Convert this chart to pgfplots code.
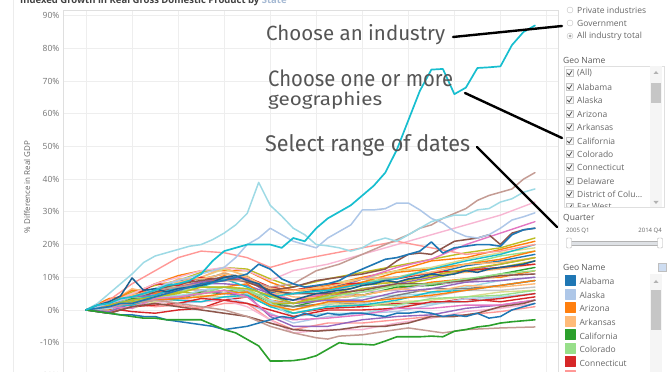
\documentclass[border=0pt]{standalone}
\usepackage{pgfplots}
\pgfplotsset{compat=1.18}
\usepackage{pgfplotstable}
\usepackage{fontspec}
\setmainfont{Open Sans}
\newfontfamily\hand{Fira Sans}
\definecolor{tBlue}{HTML}{1F77B4}
\definecolor{tLBlue}{HTML}{AEC7E8}
\definecolor{tOrange}{HTML}{FF7F0E}
\definecolor{tLOrange}{HTML}{FFBB78}
\definecolor{tGreen}{HTML}{2CA02C}
\definecolor{tLGreen}{HTML}{98DF8A}
\definecolor{tRed}{HTML}{D62728}
\definecolor{tLRed}{HTML}{FF9896}
\definecolor{tPurple}{HTML}{9467BD}
\definecolor{tLPurple}{HTML}{C5B0D5}
\definecolor{tBrown}{HTML}{8C564B}
\definecolor{tLBrown}{HTML}{C49C94}
\definecolor{tPink}{HTML}{E377C2}
\definecolor{tLPink}{HTML}{F7B6D2}
\definecolor{tGray}{HTML}{7F7F7F}
\definecolor{tLGray}{HTML}{C7C7C7}
\definecolor{tOlive}{HTML}{BCBD22}
\definecolor{tLOlive}{HTML}{DBDB8D}
\definecolor{tCyan}{HTML}{17BECF}
\definecolor{tLCyan}{HTML}{9EDAE5}
\definecolor{uiText}{HTML}{666666}
\definecolor{handText}{HTML}{555555}
\colorlet{bc1}{tOrange}\colorlet{bc2}{tOlive}\colorlet{bc3}{tLOlive}\colorlet{bc4}{tLGreen}
\colorlet{bc5}{tPurple}\colorlet{bc6}{tLOrange}\colorlet{bc7}{tOrange}\colorlet{bc8}{tRed}
\colorlet{bc9}{tLCyan}\colorlet{bc10}{tGreen}\colorlet{bc11}{tGray}\colorlet{bc12}{tLGray}
\colorlet{bc13}{tPink}\colorlet{bc14}{tLPurple}\colorlet{bc15}{tLBlue}\colorlet{bc16}{tLRed}
\colorlet{bc17}{tBlue}\colorlet{bc18}{tLOrange}\colorlet{bc19}{tLOlive}\colorlet{bc20}{tLPink}
\colorlet{bc21}{tLGreen}\colorlet{bc22}{tPurple}\colorlet{bc23}{tOlive}\colorlet{bc24}{tOrange}
\colorlet{bc25}{tCyan}\colorlet{bc26}{tLCyan}\colorlet{bc27}{tBrown}\colorlet{bc28}{tRed}
\colorlet{bc29}{tLOrange}\colorlet{bc30}{tLGreen}\colorlet{bc31}{tRed}\colorlet{bc32}{tPurple}
\colorlet{bc33}{tCyan}\colorlet{bc34}{tOrange}\colorlet{bc35}{tOlive}\colorlet{bc36}{tPink}

\pgfplotstableread{
q s1 s2 s3 s4 s5 s6 s7 s8 s9 s10 s11 s12 s13 s14 s15 s16 s17 s18 s19 s20 s21 s22 s23 s24 s25 s26 s27 s28 s29 s30 s31 s32 s33 s34 s35 s36
0 0 0 0 0 0 0 0 0 0 0 0 0 0 0 0 0 0 0 0 0 0 0 0 0 0 0 0 0 0 0 0 0 0 0 0 0
2 3.5 2 2.5 2.5 2 2 0 0.5 -0.5 1 1.5 2 2 1.5 0.5 -1 2.5 2.5 1 1.5 1.5 -0.5 1 2 1 0.5 2 2 2 1 -1 2 1.5 2 1.5 1
4 4.5 5.5 5 4 3 6.5 3 -0.5 2.5 3.5 2.5 1.5 2.5 3 1 2 4 5 0.5 1 3 2 2.5 6 1.5 3 3 4 4.5 4 1 4 3 2 3 0.5
6 8 7.5 6.5 5 4 5 4.5 -1 4.5 3 3 2 5 4 3 1 6.5 8 2.5 2 3.5 3 3.5 5 3.5 4 5.5 8 6 3.5 1.5 4.5 4.5 3 4 3.5
8 10.5 9 7.5 8 5.5 7.5 6.5 0 4.5 3.5 3.5 3.5 6.5 6.5 2 1.5 9 8.5 3 3.5 5.5 3.5 5.5 6.5 3 4 7 7.5 9.5 4 2 7 7 3.5 5 4
10 12 11.5 10 7.5 8 8.5 6 0.5 5 5.5 5 4 9 6 2.5 0.5 9.5 10 4.5 2.5 7 6 5 7.5 2.5 6 8.5 10 9.5 5 3.5 8.5 7 4 7 5
12 12 13 12.5 9 8 11.5 7 3 7 5 6 4 9 7 4 2 11 13 4 3 7 5 6 10.5 4 7 9 9 11 7 3 10 9.5 5 7 6
14 12 12.5 10.5 10 7.5 9 8 4 5 6 5.5 4 10 6 2 2 10 10 5 1 6.5 4.5 5 8.5 4.5 5 9 10 10 5.5 2 9.5 7 5.5 6.5 4
16 8.5 9.5 5.5 5 5 5.5 3 1.5 3 2 1.5 1.5 5 2.5 -1 -3 5.5 6 1 -3 2.5 -2 2 6 1 2 6 7 6.5 4 0 4.5 4 1.5 4.5 -1.5
18 6 7 5 5 3 3 2 -1 1 1 1 -1 3 2 -4 -6 5 4 0 -7 -1 -5 2 6 -1 -2 5 6 6 2 -2 2 5 0 2 -3
21 7.5 9.5 8 6 4 5.5 5 0.5 1.5 3.5 2 1 5 3 -2 -4 6.5 3.5 2 -6 1 -5 3.5 6.5 1 -1 5 8 7 4 0 3 6 2.5 4.5 -2.5
24 10 11.5 9.5 8.5 6.5 8 4.5 1 4 4.5 2 2 9.5 5.5 -1 -4 9.5 4.5 1.5 -6 1.5 -3 6.5 8.5 1.5 -1 6 8 9.5 5.5 0 3 8 2.5 7.5 -1.5
27 12 13.5 12 10 8 8.5 6.5 2 4.5 7 4.5 4 13 6 -0.5 -3 10 6.5 2.5 -4 1.5 -2 7.5 11.5 3 1 8 9.5 10 7.5 0.5 5.5 9.5 3.5 8.5 0.5
30 15 15.5 13 12.5 10 10.5 8.5 2 5 7.5 6.5 4 15.5 8 1.5 -2 11 5.5 3 -2.5 3.5 -1.5 9.5 12.5 5.5 2 8 11.5 11.5 8 2.5 6.5 12.5 4.5 10.5 0.5
33 16 17.5 15.5 14 12 11.5 9.5 3.5 7 9 6.5 6 20 8.5 3.5 -1.5 13.5 7.5 4 -0.5 4 0.5 12 14 6 2.5 9 12 14 9.5 2.5 8.5 15 6 12.5 1.5
36 18.5 19 17.5 16.5 14 12.5 10 2.5 9 11 7.5 6 23.5 10.5 4 -0.5 15 7 5.5 0.5 4.5 1.5 13 15.5 7.5 4 10.5 13 14.5 11 3.5 9 17 7.5 14 1.5
39 21 22 19 18 16 14 12 4 10 13 9 7 27 11 5 1 17 8 6 2 6 3 15 18 9 5 11 14 16 12 5 10 20 9 16 3
}\bundle

\begin{document}
\begin{tikzpicture}
\begin{axis}[
  scale only axis,
  width=495pt, height=366.9pt,
  xmin=-2, xmax=41, ymin=-20.5, ymax=91.7,
  xtick={0,4,...,40}, xticklabels={},
  ytick={-20,-10,...,90},
  yticklabel={\pgfmathprintnumber{\tick}\%},
  /pgf/number format/assume math mode=true,
  yticklabel style={font=\fontsize{8.5}{10}\selectfont, text=black!55},
  extra y ticks={0}, extra y tick labels={},
  extra y tick style={grid style={gray!55, line width=0.8pt, dash pattern=on 1.5pt off 1.5pt}},
  grid=major, major grid style={gray!13, line width=0.8pt},
  axis line style={gray!25}, tick style={draw=none},
  every axis plot/.append style={line join=round, line cap=round},
  legend image code/.code={\fill[#1] (0pt,-2pt) rectangle (10pt,8pt);},
  legend style={at={(1.0141,0.2780)}, anchor=north west, draw=none, fill=none,
    font=\fontsize{8.5}{10}\selectfont\color{uiText}, inner sep=0pt,
    row sep=0pt, legend cell align=left,
    nodes={inner sep=0pt, text height=6.8pt, text depth=3.9pt},
    /tikz/every even column/.append style={column sep=4pt}},
]
\coordinate (O) at (rel axis cs:0,0);
\addlegendimage{color=tBlue}\addlegendentry{\hspace{4pt}Alabama}
\addlegendimage{color=tLBlue}\addlegendentry{\hspace{4pt}Alaska}
\addlegendimage{color=tOrange}\addlegendentry{\hspace{4pt}Arizona}
\addlegendimage{color=tLOrange}\addlegendentry{\hspace{4pt}Arkansas}
\addlegendimage{color=tGreen}\addlegendentry{\hspace{4pt}California}
\addlegendimage{color=tLGreen}\addlegendentry{\hspace{4pt}Colorado}
\addlegendimage{color=tRed}\addlegendentry{\hspace{4pt}Connecticut}
\addlegendimage{color=tLRed}\addlegendentry{\hspace{4pt}Delaware}

\pgfplotsinvokeforeach{1,...,36}{
  \addplot[color=bc#1, line width=1.4pt, forget plot] table[x=q,y=s#1]{\bundle};
}
% light pink rising
\addplot[color=tLPink, line width=1.4pt, forget plot] coordinates {(0,0)(2,2)(4,5)(6,8)(8,10)(10,12)(12,13)(14,12)(16,9)(18,12)(21,14)(24,17)(27,20)(30,23)(33,26)(36,29)(39,33)};
% salmon upper
\addplot[color=tLRed, line width=1.4pt, forget plot] coordinates {(0,0)(2,3)(4,8)(6,12)(8,16)(10,18)(12,17.5)(14,16)(16,13)(18,15)(21,17)(24,19)(27,21)(30,19)(33,17)(36,18)(39,20)};
% brown upper
\addplot[color=tBrown, line width=1.5pt, forget plot] coordinates {(0,0)(2,2)(4,4)(6,6)(8,8)(10,9)(12,10)(14,8.5)(16,6)(18,7)(20,9)(22,10)(24,11)(26,12.5)(27,15)(28,17)(29,17.4)(30,17)(31,19)(32,21)(33,21.5)(34,22)(35,23)(36,20)(37,23.5)(38,24.5)(39,25)};
% brown lower
\addplot[color=tBrown, line width=1.5pt, forget plot] coordinates {(0,0)(2,-1)(4,1)(6,2)(8,1)(10,0)(12,-1)(14,-2)(16,-4)(18,-6)(20,-6.5)(22,-6)(24,-5)(26,-5)(28,-4)(30,-2)(32,-2)(34,-1)(36,1)(38,2)(39,3)};
% light brown lower
\addplot[color=tLBrown, line width=1.5pt, forget plot] coordinates {(0,0)(2,1)(4,2)(6,3)(8,2)(10,1)(12,0)(14,-2)(16,-5)(18,-7)(20,-8.5)(21,-8.9)(22,-8)(24,-7.6)(26,-6.5)(28,-5.5)(30,-6.5)(31,-7)(33,-6)(36,-5.5)(39,-5.2)};
% light brown top
\addplot[color=tLBrown, line width=1.5pt, forget plot] coordinates {(0,0)(2,2)(4,4)(6,6)(8,7)(10,8)(12,9)(14,9)(16,7)(18,8)(20,12)(22,14)(24,17)(26,20)(28,23)(29,25)(30,26)(31,28)(32,29.5)(33,31)(34,33.5)(35,35)(36,36)(37,37)(38,40)(39,42)};
% lavender
\addplot[color=tLBlue, line width=1.5pt, forget plot] coordinates {(0,0)(1,1)(2,2)(3,3)(4,4)(5,5)(6,6.5)(7,8)(8,9)(9,10)(10,11)(11,12)(12,13)(13,16)(14,20)(15,22)(16,25)(17,23)(18,21)(19,20)(20,19)(21,22)(22,24)(23,26)(24,30.6)(25,30.6)(26,31)(27,32.7)(28,32.7)(29,30.6)(30,28)(31,26.6)(32,24)(33,22.5)(34,22)(35,23)(36,25)(37,27.5)(38,28.5)(39,29.7)};
% light cyan peak
\addplot[color=tLCyan, line width=1.5pt, forget plot] coordinates {(0,0)(1,2)(2,5)(3,8)(4,11)(5,14.5)(6,16.5)(7,17.5)(8,18.5)(9,19.5)(10,20)(11,21.5)(12,23.5)(13,26)(14,29.5)(15,39)(16,32)(17,28.7)(18,25)(19,23)(20,20)(21,19.6)(22,19)(23,18)(24,19)(25,21)(26,22)(27,21)(28,23)(29,25)(30,27)(31,28)(32,29)(33,29)(34,30.6)(35,31)(36,33)(37,34)(38,36)(39,37)};
% blue early decline
\addplot[color=tBlue, line width=1.5pt, forget plot] coordinates {(0,0)(1,-0.5)(2,-1)(3,-1.5)(4,-1.5)(5,-2)(6,-2)(7,-3)(8,-3.5)(9,-4)(10,-4.5)(11,-5)(12,-6)(13,-5.5)(14,-5)(15,-4)(16,-3)(17,-2)(18,-2.5)(19,-1)(20,-2)(21,-1)(22,-1.5)(23,-1)(24,-1)(25,-1.5)(26,-2)(27,-1)(28,-1)(29,-0.5)(30,-1)(31,-2)(32,-1.5)(33,-2)(34,-1)(35,-2.5)(36,-2)(37,0)(38,1)(39,2)};
% dark blue early spike
\addplot[color=tBlue!80!black, line width=1.5pt, forget plot] coordinates {(0,0)(1,1.5)(2,2.5)(3,4.3)(4,9.8)(5,6)(6,6.5)(7,5.5)(8,6.5)(9,7)(10,7.5)(11,8.5)(12,10)(13,10.5)(14,9)(15,8)(16,5)(17,3.5)(18,3)(19,4)(20,5)(21,5.5)(22,6)(23,6.5)(24,7.5)(25,8)(26,9)(27,8.5)(28,9.5)(29,10)(30,11)(31,10.5)(32,11)(33,12)(34,11.5)(35,12.5)(36,13)(37,13.5)(38,14)(39,15)};
% blue spike 2008 ending 25
\addplot[color=tBlue, line width=1.6pt, forget plot] coordinates {(0,0)(1,0.5)(2,1)(3,2)(4,2)(5,3)(6,4)(7,5)(8,6)(9,7)(10,8)(11,8.5)(12,9)(13,10)(14,11)(15,14)(16,12.5)(17,9.5)(18,8)(19,7)(20,7.5)(21,8)(22,9)(23,11)(24,12.5)(25,14)(26,15.5)(27,16)(28,17)(29,18)(30,20.8)(31,17.4)(32,19)(33,19.5)(34,20)(35,20)(36,19.5)(37,23)(38,24.5)(39,25)};
% green decline
\addplot[color=tGreen, line width=1.6pt, forget plot] coordinates {(0,0)(1,-0.5)(2,-1)(3,-1.5)(4,-2)(5,-2.5)(6,-2.5)(7,-3)(8,-3)(9,-3)(10,-3)(11,-4.5)(12,-6)(13,-7)(14,-9)(15,-11)(16,-15.6)(17,-15.6)(18,-15.5)(19,-15)(20,-14)(21,-12)(22,-10)(23,-10.5)(24,-10.5)(25,-10.7)(26,-9.5)(27,-8.2)(28,-8.2)(29,-8.2)(30,-8)(31,-8.2)(32,-6.5)(33,-6)(34,-5.2)(35,-4.8)(36,-4)(37,-3.6)(38,-3.3)(39,-3)};
% North Dakota
\addplot[color=tCyan, line width=1.7pt, forget plot] coordinates {(0,0)(1,1.5)(2,2)(3,3.5)(4,4)(5,5)(6,6)(7,7.5)(8,8)(9,9)(10,11)(11,15)(12,18)(13,19)(14,20)(15,20)(16,20)(17,19)(18,22)(19,21)(20,25)(21,28)(22,30)(23,32)(24,35)(25,38)(26,42)(27,49)(28,58)(29,67)(30,73.5)(31,73.7)(32,66)(33,68)(34,74)(35,74.2)(36,74.5)(37,81)(38,85)(39,87)};
\end{axis}

\begin{scope}[shift={(O)}, xshift=-63pt, yshift=5pt, x=1pt, y=1pt]
% faint outer frame line
\draw[gray!15, line width=0.6pt] (13,0) -- (13,372);
% title (cut at top)
\node[anchor=base west, inner sep=0pt, font=\bfseries\fontsize{9.5}{11}\selectfont, text=black!75] at (20,368) {Indexed Growth in Real Gross Domestic Product by {\color{tLBlue!80!gray}State}};
% y label
\node[rotate=90, font=\fontsize{8}{10}\selectfont, text=uiText] at (27,185) {\% Difference in Real GDP};

% handwritten annotations
\node[anchor=base west, inner sep=0pt, text=handText] at (266,331) {\resizebox{179pt}{16pt}{\hand Choose an industry}};
\node[anchor=base west, inner sep=0pt, text=handText] at (268,285.3) {\resizebox{185pt}{16.7pt}{\hand Choose one or more}};
\node[anchor=base west, inner sep=0pt, text=handText] at (268,266.3) {\resizebox{114pt}{14pt}{\hand geographies}};
\node[anchor=base west, inner sep=0pt, text=handText] at (265,220) {\resizebox{205pt}{17pt}{\hand Select range of dates}};
\draw[black, line width=2.4pt, line cap=round] (453,335) -- (562,346);
\draw[black, line width=2.4pt, line cap=round] (465,279) -- (562,234);
\draw[black, line width=2.4pt, line cap=round] (477,225) -- (557,145);

% right panel
\begin{scope}[font=\fontsize{8.5}{10}\selectfont, text=uiText]
\draw[gray!50, fill=white] (570,362) circle (3);
\draw[gray!50, fill=white] (570,349) circle (3);
\draw[gray!50, fill=white] (570,336) circle (3);
\fill[gray!70] (570,336) circle (1.5);
\node[anchor=west, inner sep=0pt] at (577,362) {Private industries};
\node[anchor=west, inner sep=0pt] at (577,349) {Government};
\node[anchor=west, inner sep=0pt] at (577,336) {All industry total};
\node[anchor=west, inner sep=0pt, text=black!65] at (563,312) {Geo Name};
\draw[gray!25] (564,306) rectangle (664,165);
\begin{scope}
\clip (564,165) rectangle (664,306);
\foreach \yy/\lab in {299/{(All)},285/Alabama,272/Alaska,258/Arizona,245/Arkansas,231/California,218/Colorado,205/Connecticut,191/Delaware,178/{District of Colu\ldots},165/{Far West}}{
  \draw[gray!45, fill=gray!5] (566,\yy-3.5) rectangle ++(7,7);
  \draw[black!70, line width=0.8pt] (567.3,\yy) -- (569.2,\yy-2) -- (572,\yy+2.5);
  \node[anchor=west, inner sep=0pt] at (577,\yy) {\lab};
}
\end{scope}
\fill[gray!8] (650,306) rectangle (662,165);
\fill[gray!45] (651,289) rectangle (661,269);
\fill[gray!60] (653.5,298) -- (658.5,298) -- (656,301) -- cycle;
\fill[gray!60] (653.5,171) -- (658.5,171) -- (656,168) -- cycle;
\node[anchor=west, inner sep=0pt, text=black!65] at (563,154) {Quarter};
\node[anchor=west, inner sep=0pt, font=\fontsize{6}{7}\selectfont] at (566,141) {2005 Q1};
\node[anchor=east, inner sep=0pt, font=\fontsize{6}{7}\selectfont] at (662,141) {2014 Q4};
\draw[gray!60, fill=tLBlue!40!gray!30] (570,127) rectangle (659,131);
\draw[gray!60, fill=white, rounded corners=1pt] (566.5,124) rectangle (571.5,134);
\draw[gray!60, fill=white, rounded corners=1pt] (657.5,124) rectangle (662.5,134);
\node[anchor=west, inner sep=0pt, text=black!65] at (563,105) {Geo Name};
\draw[gray!50, fill=tLBlue!60] (658,101) rectangle (666,109);
\fill[gray!8] (650,98) rectangle (662,-2);
\fill[gray!45] (651,82) rectangle (661,42);
\fill[gray!60] (653.5,89) -- (658.5,89) -- (656,92) -- cycle;
\end{scope}

\pgfresetboundingbox
\path[use as bounding box] (0,0) rectangle (672,372);
\end{scope}
\end{tikzpicture}
\end{document}
